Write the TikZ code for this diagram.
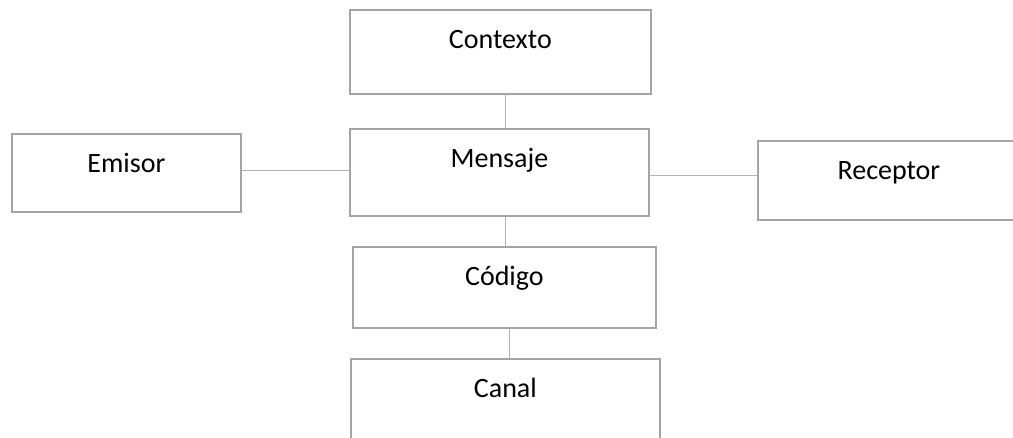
\documentclass[tikz,border=0pt]{standalone}
\usepackage{fontspec}
\setmainfont{Carlito}
\usetikzlibrary{calc}
\definecolor{boxgray}{HTML}{A5A5A5}
\definecolor{linegray}{HTML}{B4B4B4}
\begin{document}
\begin{tikzpicture}[x=1bp,y=-1bp,
  box/.style={draw=boxgray, line width=1.8bp, rectangle, anchor=north west,
    inner xsep=0pt, inner ysep=0pt, text height=39bp,
    font=\fontsize{28bp}{32bp}\selectfont},
  conn/.style={draw=linegray, line width=1bp}]
\useasboundingbox (0,0) rectangle (1013,438);
\node[box, minimum width=301bp, text depth=45bp] (ctx) at (349,9) {Contexto};
\node[box, minimum width=299bp, text depth=48bp] (msg) at (349,128) {Mensaje};
\node[box, minimum width=229bp, text depth=39bp] (emi) at (11,133) {Emisor};
\node[box, minimum width=262bp, text depth=40bp] (rec) at (757,140) {Receptor};
\node[box, minimum width=303bp, text depth=42bp] (cod) at (352,246) {Código};
\node[box, minimum width=309bp, text depth=61bp] (can) at (350,358) {Canal};
\draw[conn] ([xshift=5bp]ctx.south) -- ([xshift=5bp]ctx.south |- msg.north);
\draw[conn] ([yshift=2bp]emi.east) -- ([yshift=2bp]emi.east -| msg.west);
\draw[conn] ([yshift=-3.5bp]msg.east) -- ([yshift=-3.5bp]msg.east -| rec.west);
\draw[conn] ([xshift=6bp]msg.south) -- ([xshift=6bp]msg.south |- cod.north);
\draw[conn] ([xshift=5bp]cod.south) -- ([xshift=5bp]cod.south |- can.north);
\end{tikzpicture}
\end{document}
